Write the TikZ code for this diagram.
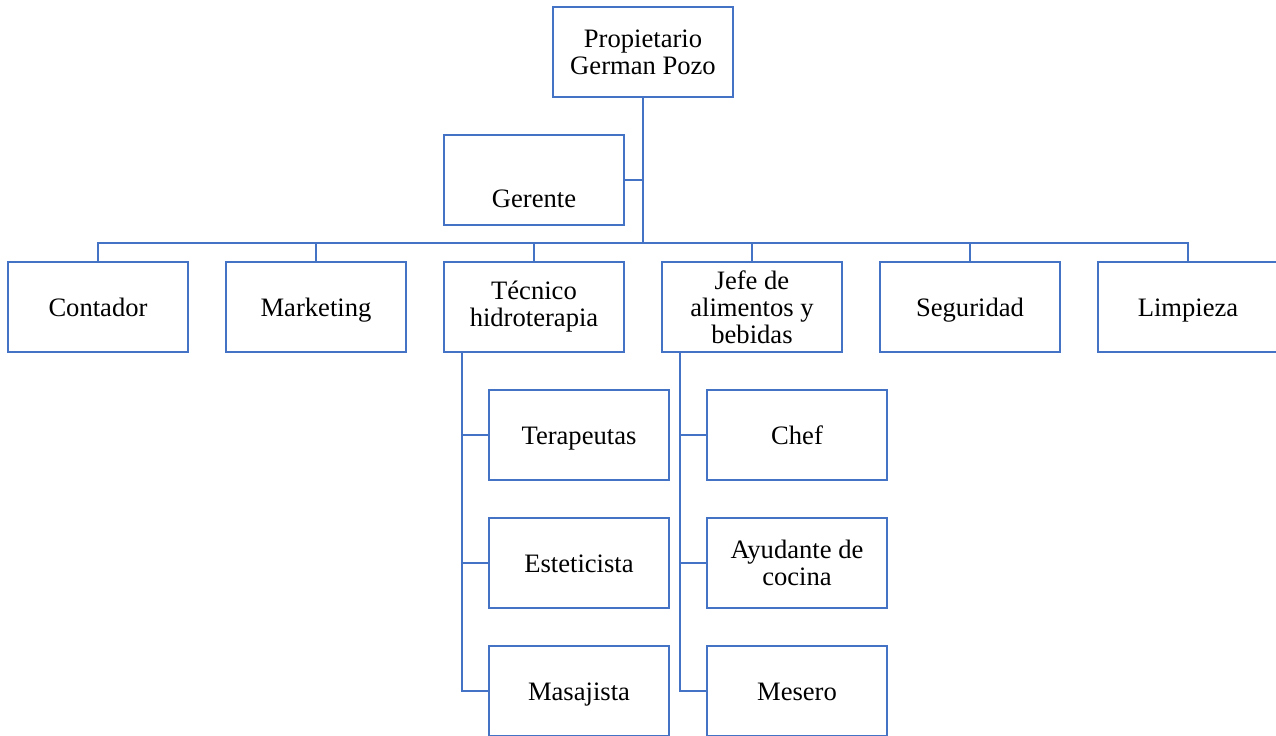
\documentclass[tikz,border=0pt]{standalone}
\usepackage{fontspec}
\setmainfont{Liberation Serif}
\definecolor{orgblue}{HTML}{4472C4}
\tikzset{
  cargo/.style={draw=orgblue, line width=1.3pt, fill=white, rectangle,
    minimum width=90pt, minimum height=45pt, align=center,
    font=\fontsize{13.3}{13.5}\selectfont, inner sep=2pt},
  uno/.style={text height=9.5pt, text depth=0.5pt},
  enlace/.style={draw=orgblue, line width=1.2pt}
}
\begin{document}
\begin{tikzpicture}[x=0.5pt, y=-0.5pt]
    \useasboundingbox (0,0) rectangle (1276,735);
    \clip (0,0) rectangle (1276,735);

    % Top of the chart
    \node[cargo] (prop) at (643,52) {Propietario\\German Pozo};
    \node[cargo] (ger) at (534,180) {};
    \node[font=\fontsize{13.3}{13.5}\selectfont, uno] (gertxt) at (534,198) {Gerente};
    \coordinate (bus) at (643,243);

    % Second row
    \node[cargo, uno] (cont) at (98,307) {Contador};
    \node[cargo, uno] (mark) at (316,307) {Marketing};
    \node[cargo] (tec) at (534,307) {Técnico\\hidroterapia};
    \node[cargo] (jefe) at (752,307) {Jefe de\\alimentos y\\bebidas};
    \node[cargo, uno] (seg) at (970,307) {Seguridad};
    \node[cargo, uno] (limp) at (1188,307) {Limpieza};

    % Staff under the two heads
    \node[cargo, uno] (tera) at (579,435) {Terapeutas};
    \node[cargo, uno] (este) at (579,563) {Esteticista};
    \node[cargo, uno] (masa) at (579,691) {Masajista};
    \node[cargo, uno] (chef) at (797,435) {Chef};
    \node[cargo] (ayud) at (797,563) {Ayudante de\\cocina};
    \node[cargo, uno] (mese) at (797,691) {Mesero};

    % Connectors
    \draw[enlace] (prop.south) -- (bus);
    \draw[enlace] (ger.east) -- (ger.east -| bus);
    \draw[enlace] (cont.north) |- (limp.north |- bus) -- (limp.north);
    \foreach \n in {mark,tec,jefe,seg}
      \draw[enlace] (\n.north) -- (\n.north |- bus);

    \coordinate (tl) at (462,352);
    \coordinate (jl) at (680,352);
    \draw[enlace] (tl) |- (masa.west);
    \foreach \n in {tera,este}
      \draw[enlace] (tl |- \n.west) -- (\n.west);
    \draw[enlace] (jl) |- (mese.west);
    \foreach \n in {chef,ayud}
      \draw[enlace] (jl |- \n.west) -- (\n.west);

\end{tikzpicture}
\end{document}
